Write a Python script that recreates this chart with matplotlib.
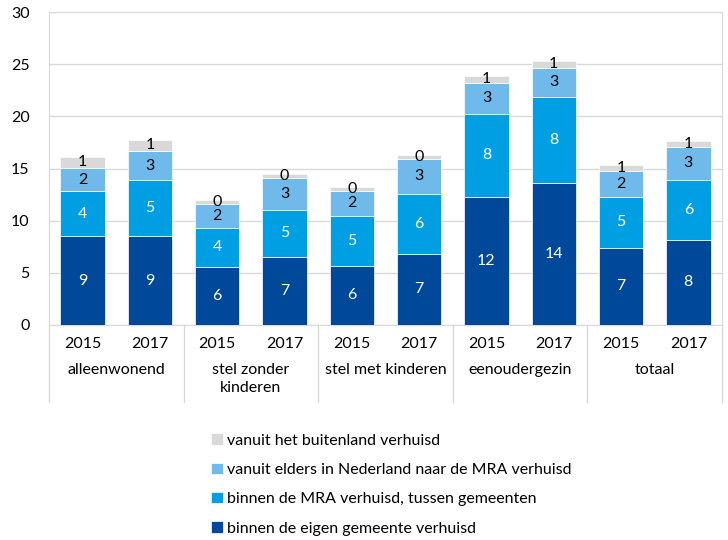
import matplotlib
matplotlib.use("Agg")
import matplotlib.pyplot as plt
import numpy as np

plt.rcParams['font.family'] = ['Lato', 'DejaVu Sans']

# --- data ---
groups = ['alleenwonend', 'stel zonder\nkinderen', 'stel met kinderen', 'eenoudergezin', 'totaal']
years = ['2015', '2017']

eigen_gemeente = [8.52, 8.52, 5.6, 6.52, 5.7, 6.84, 12.3, 13.64, 7.41, 8.18]
binnen_mra = [4.28, 5.34, 3.7, 4.53, 4.76, 5.75, 7.93, 8.22, 4.86, 5.72]
elders_nl = [2.24, 2.84, 2.33, 3.04, 2.4, 3.33, 2.97, 2.78, 2.45, 3.17]
buitenland = [1.09, 1.03, 0.35, 0.42, 0.38, 0.38, 0.7, 0.7, 0.57, 0.57]

series_names = ['binnen de eigen gemeente verhuisd',
                'binnen de MRA verhuisd, tussen gemeenten',
                'vanuit elders in Nederland naar de MRA verhuisd',
                'vanuit het buitenland verhuisd']
colors = ['#004899', '#009FE3', '#6FBAEA', '#D9D9D9']
text_colors = ['white', 'white', 'black', 'black']

# --- plot ---
fig = plt.figure(figsize=(7.28, 5.4), dpi=100)
ax = fig.add_axes([49 / 728, 1 - 325 / 540, 673 / 728, 313 / 540])

x = np.arange(len(eigen_gemeente))
bottom = np.zeros(len(x))
handles = []
for vals, col, tcol, name in zip([eigen_gemeente, binnen_mra, elders_nl, buitenland],
                                 colors, text_colors, series_names):
    vals = np.array(vals)
    bars = ax.bar(x, vals, 0.66, bottom=bottom, color=col, edgecolor='white',
                  linewidth=0.5, label=name, zorder=3)
    handles.append(bars)
    for xi, b, v in zip(x, bottom, vals):
        ax.text(xi, b + v / 2, '%.0f' % v, ha='center', va='center',
                color=tcol, fontsize=11.5, zorder=4)
    bottom += vals

ax.set_xlim(-0.5, 9.5)
ax.set_ylim(0, 30)
ax.set_yticks(range(0, 31, 5))
ax.yaxis.grid(True, color='#D9D9D9', linewidth=1, zorder=0)
ax.tick_params(axis='y', length=0, labelsize=11.5, pad=14)
for s in ax.spines.values():
    s.set_color('#D9D9D9')

# year labels and group labels on a two-level category axis
ax.set_xticks(x)
ax.set_xticklabels(years * len(groups))
ax.tick_params(axis='x', length=0, labelsize=11.5, pad=9)

trans = ax.get_xaxis_transform()
for i, g in enumerate(groups):
    ax.text(2 * i + 0.5, -0.123, g, transform=trans, ha='center', va='top',
            fontsize=11.5, linespacing=1.35)
for xs in np.arange(-0.5, 10, 2):
    ax.plot([xs, xs], [0, -0.246], transform=trans, color='#D9D9D9',
            linewidth=1, clip_on=False)

leg = fig.legend(handles[::-1], series_names[::-1], loc='upper left',
                 bbox_to_anchor=(197 / 728, 1 - 419 / 540), frameon=False,
                 fontsize=11.5, handlelength=0.7, handleheight=0.7,
                 handletextpad=0.3, labelspacing=0.95)

fig.savefig('out.png', dpi=100)
